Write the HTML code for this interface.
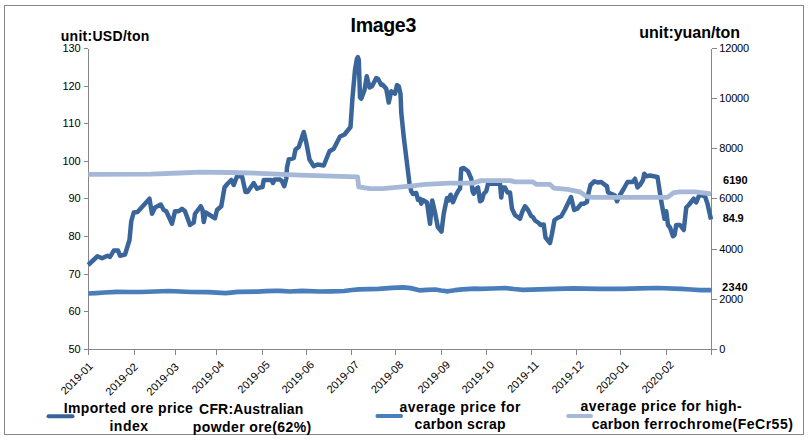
<!DOCTYPE html>
<html><head><meta charset="utf-8"><title>Image3</title>
<style>
html,body{margin:0;padding:0;background:#fff;}
body{width:811px;height:440px;overflow:hidden;font-family:"Liberation Sans",sans-serif;}
svg{display:block;}
text{font-family:"Liberation Sans",sans-serif;fill:#000;}
.b{font-weight:bold;}
.t{font-size:11px;}
</style></head><body>
<svg width="811" height="440" viewBox="0 0 811 440">
<rect x="0" y="0" width="811" height="440" fill="#fff"/>
<rect x="4.5" y="5.5" width="799" height="429" fill="none" stroke="#868686" stroke-width="1"/>

<g stroke="#868686" stroke-width="1" fill="none" shape-rendering="crispEdges">
<line x1="88.5" y1="48.5" x2="88.5" y2="349.5"/>
<line x1="711.5" y1="48.5" x2="711.5" y2="349.5"/>
<line x1="88" y1="349.5" x2="712" y2="349.5"/>
<line x1="84" y1="48.5" x2="88" y2="48.5"/>
<line x1="84" y1="86.5" x2="88" y2="86.5"/>
<line x1="84" y1="123.5" x2="88" y2="123.5"/>
<line x1="84" y1="161.5" x2="88" y2="161.5"/>
<line x1="84" y1="198.5" x2="88" y2="198.5"/>
<line x1="84" y1="236.5" x2="88" y2="236.5"/>
<line x1="84" y1="274.5" x2="88" y2="274.5"/>
<line x1="84" y1="311.5" x2="88" y2="311.5"/>
<line x1="84" y1="349.5" x2="88" y2="349.5"/>
<line x1="712" y1="48.5" x2="717" y2="48.5"/>
<line x1="712" y1="98.5" x2="717" y2="98.5"/>
<line x1="712" y1="148.5" x2="717" y2="148.5"/>
<line x1="712" y1="198.5" x2="717" y2="198.5"/>
<line x1="712" y1="249.5" x2="717" y2="249.5"/>
<line x1="712" y1="299.5" x2="717" y2="299.5"/>
<line x1="712" y1="349.5" x2="717" y2="349.5"/>
<line x1="88.5" y1="349" x2="88.5" y2="355"/>
<line x1="134.5" y1="349" x2="134.5" y2="355"/>
<line x1="175.5" y1="349" x2="175.5" y2="355"/>
<line x1="216.5" y1="349" x2="216.5" y2="355"/>
<line x1="262.5" y1="349" x2="262.5" y2="355"/>
<line x1="306.5" y1="349" x2="306.5" y2="355"/>
<line x1="351.5" y1="349" x2="351.5" y2="355"/>
<line x1="395.5" y1="349" x2="395.5" y2="355"/>
<line x1="441.5" y1="349" x2="441.5" y2="355"/>
<line x1="486.5" y1="349" x2="486.5" y2="355"/>
<line x1="531.5" y1="349" x2="531.5" y2="355"/>
<line x1="576.5" y1="349" x2="576.5" y2="355"/>
<line x1="620.5" y1="349" x2="620.5" y2="355"/>
<line x1="666.5" y1="349" x2="666.5" y2="355"/>
<line x1="711.5" y1="349" x2="711.5" y2="355"/>
</g>
<text class="t" x="62.6" y="51.9" textLength="18.1" lengthAdjust="spacing">130</text>
<text class="t" x="62.6" y="89.5" textLength="18.1" lengthAdjust="spacing">120</text>
<text class="t" x="62.6" y="127.2" textLength="18.1" lengthAdjust="spacing">110</text>
<text class="t" x="62.6" y="164.8" textLength="18.1" lengthAdjust="spacing">100</text>
<text class="t" x="68.6" y="202.4" textLength="12.1" lengthAdjust="spacing">90</text>
<text class="t" x="68.6" y="240.0" textLength="12.1" lengthAdjust="spacing">80</text>
<text class="t" x="68.6" y="277.6" textLength="12.1" lengthAdjust="spacing">70</text>
<text class="t" x="68.6" y="315.3" textLength="12.1" lengthAdjust="spacing">60</text>
<text class="t" x="68.6" y="352.9" textLength="12.1" lengthAdjust="spacing">50</text>
<text class="t" x="719.3" y="51.9" textLength="29.8" lengthAdjust="spacing">12000</text>
<text class="t" x="719.3" y="102.1" textLength="29.8" lengthAdjust="spacing">10000</text>
<text class="t" x="719.3" y="152.2" textLength="23.8" lengthAdjust="spacing">8000</text>
<text class="t" x="719.3" y="202.4" textLength="23.8" lengthAdjust="spacing">6000</text>
<text class="t" x="719.3" y="252.6" textLength="23.8" lengthAdjust="spacing">4000</text>
<text class="t" x="719.3" y="302.7" textLength="23.8" lengthAdjust="spacing">2000</text>
<text class="t" x="719.3" y="352.9" textLength="6.0" lengthAdjust="spacing">0</text>
<text class="t" transform="translate(93.7,366.8) rotate(-45)" text-anchor="end">2019-01</text>
<text class="t" transform="translate(138.5,367.6) rotate(-45)" text-anchor="end">2019-02</text>
<text class="t" transform="translate(179.5,367.6) rotate(-45)" text-anchor="end">2019-03</text>
<text class="t" transform="translate(224.8,365.5) rotate(-45)" text-anchor="end">2019-04</text>
<text class="t" transform="translate(270.6,365.5) rotate(-45)" text-anchor="end">2019-05</text>
<text class="t" transform="translate(314.8,365.5) rotate(-45)" text-anchor="end">2019-06</text>
<text class="t" transform="translate(359.8,365.5) rotate(-45)" text-anchor="end">2019-07</text>
<text class="t" transform="translate(404.0,365.5) rotate(-45)" text-anchor="end">2019-08</text>
<text class="t" transform="translate(450.8,365.5) rotate(-45)" text-anchor="end">2019-09</text>
<text class="t" transform="translate(494.8,365.5) rotate(-45)" text-anchor="end">2019-10</text>
<text class="t" transform="translate(539.7,365.5) rotate(-45)" text-anchor="end">2019-11</text>
<text class="t" transform="translate(584.7,365.5) rotate(-45)" text-anchor="end">2019-12</text>
<text class="t" transform="translate(629.3,365.5) rotate(-45)" text-anchor="end">2020-01</text>
<text class="t" transform="translate(674.7,365.5) rotate(-45)" text-anchor="end">2020-02</text>
<polyline points="88.20,265.00 97.50,256.25 102.00,258.25 107.50,255.75 110.00,257.00 113.75,250.50 118.00,250.50 120.00,255.75 125.00,254.50 129.50,240.00 131.25,221.25 133.75,212.50 137.50,212.00 149.50,198.75 152.00,213.75 155.00,207.50 160.75,204.50 163.75,210.00 166.25,211.25 172.00,223.75 175.00,211.25 178.75,211.25 182.00,208.75 185.00,211.25 190.00,225.00 193.75,222.50 195.00,213.75 200.75,206.25 202.50,210.00 203.75,222.00 205.75,212.50 215.00,218.25 217.00,210.00 221.25,206.25 224.50,187.50 227.50,183.75 231.25,180.00 233.75,185.00 237.00,176.25 242.00,176.25 245.50,192.00 247.50,192.00 253.75,183.00 257.00,188.75 260.00,187.50 262.50,187.00 263.75,180.00 271.25,180.00 273.00,183.00 274.50,179.50 280.00,179.50 282.00,181.25 284.25,186.25 286.25,178.75 287.00,167.50 288.75,159.50 293.75,158.00 295.50,149.50 298.75,147.00 303.75,132.00 306.25,142.50 309.50,159.50 313.75,166.25 317.50,164.50 323.75,165.50 329.50,151.25 333.75,148.75 340.00,136.50 344.50,134.50 350.50,127.00 352.50,97.50 355.00,70.00 356.90,58.80 357.90,57.20 358.80,60.00 360.00,97.50 361.25,98.75 364.50,90.00 366.75,76.25 369.50,87.50 372.00,86.25 376.25,78.00 378.00,78.75 381.25,85.00 382.50,84.50 386.25,88.75 388.75,102.50 391.25,91.25 395.00,93.75 397.00,85.00 398.75,86.25 400.50,93.75 401.25,112.50 403.75,137.00 407.50,167.50 409.50,183.75 411.25,191.25 413.00,194.00 416.25,193.00 418.00,200.00 420.00,198.75 421.25,203.75 422.75,200.00 427.00,202.50 430.00,223.75 432.25,200.50 435.00,212.50 437.80,227.00 441.50,231.60 443.75,213.50 447.00,198.00 448.75,200.50 450.60,194.75 453.00,202.25 456.25,194.50 458.75,190.00 460.00,188.75 461.25,168.75 463.75,168.00 468.00,171.25 471.25,178.75 472.50,191.25 473.75,193.75 476.25,188.75 478.00,187.50 480.00,201.25 482.00,200.00 483.75,193.75 486.25,191.25 488.00,183.75 500.00,183.75 501.25,197.50 502.50,187.50 505.00,187.50 507.50,192.50 510.00,192.50 512.00,208.75 515.00,215.00 520.00,218.75 522.50,211.25 525.00,206.25 528.00,210.00 531.25,216.25 533.00,217.00 535.00,220.50 538.75,223.00 540.50,225.00 543.75,224.50 545.50,237.50 550.00,243.00 552.00,233.75 554.50,220.00 557.50,218.00 561.25,216.25 565.00,209.50 571.00,197.00 574.20,210.00 577.20,208.75 581.25,203.75 583.75,203.75 587.00,202.00 588.00,195.00 590.50,185.00 594.50,181.25 597.50,182.50 601.25,182.00 605.00,185.00 607.00,186.25 608.00,192.50 611.25,193.75 615.00,195.50 617.00,201.25 620.00,195.00 623.75,188.75 627.50,182.00 632.50,182.00 635.00,178.75 637.50,187.50 640.00,185.00 643.00,180.00 644.25,173.75 646.25,176.25 650.00,175.50 657.50,177.00 659.50,190.00 661.25,201.25 664.50,218.75 666.25,211.25 668.00,225.00 670.00,227.50 673.00,236.25 674.50,235.00 676.25,225.00 680.00,225.00 683.75,230.00 686.25,207.50 688.75,205.00 693.75,198.75 696.25,202.50 698.75,196.25 701.25,195.00 705.00,196.25 707.50,203.75 711.00,219.50" fill="none" stroke="#3a659b" stroke-width="4.5" stroke-linejoin="round" stroke-linecap="butt"/>
<polyline points="88.20,293.50 96.00,293.10 104.70,292.50 117.00,291.80 130.00,292.00 141.70,292.00 155.00,291.50 168.80,291.00 180.00,291.50 191.00,292.00 208.20,292.10 217.00,292.70 225.50,293.20 231.00,292.60 237.80,291.80 257.60,291.70 266.00,291.20 274.80,290.80 280.00,290.80 289.90,291.50 302.20,290.80 319.50,291.50 332.00,291.30 344.10,291.00 352.00,290.00 358.90,289.30 378.60,288.80 392.00,287.90 403.30,287.30 410.70,288.10 419.30,290.30 427.00,289.90 435.40,289.50 441.00,290.50 447.70,291.30 455.00,290.20 462.50,289.30 474.80,288.60 480.00,288.90 493.00,288.50 505.20,288.00 514.00,289.00 522.90,289.80 548.00,289.20 573.20,288.30 598.40,288.90 622.00,288.90 640.00,288.40 657.60,288.00 681.20,288.90 691.00,289.50 700.50,290.10 711.20,290.10" fill="none" stroke="#4a7ebb" stroke-width="4.7" stroke-linejoin="round" stroke-linecap="butt"/>
<polyline points="88.20,174.30 150.00,174.20 180.00,173.00 200.00,172.20 230.00,172.50 260.00,173.30 300.00,175.20 340.00,176.30 357.50,176.85 358.75,186.85 370.00,188.60 382.50,188.60 410.00,186.10 425.00,184.35 450.00,183.10 472.50,183.10 481.25,180.60 510.00,180.60 515.00,181.85 532.50,181.85 536.25,184.35 550.00,184.35 553.75,188.10 567.50,189.35 580.00,191.85 586.25,196.35 592.50,197.35 667.50,197.35 673.75,192.60 680.00,191.85 695.00,191.85 711.20,193.80" fill="none" stroke="#a6b8d8" stroke-width="4.8" stroke-linejoin="round" stroke-linecap="butt"/>
<text class="b" font-size="11" x="723" y="184" textLength="24.6" lengthAdjust="spacing">6190</text>
<text class="b" font-size="11" x="722.8" y="222" textLength="20.8" lengthAdjust="spacing">84.9</text>
<text class="b" font-size="11" x="721.9" y="291" textLength="25.7" lengthAdjust="spacing">2340</text>
<text class="b" font-size="19.6" x="350.6" y="32" textLength="65.7" lengthAdjust="spacing">Image3</text>
<text class="b" font-size="14" x="60.7" y="40.7" textLength="88.7" lengthAdjust="spacing">unit:USD/ton</text>
<text class="b" font-size="16" x="639.3" y="37.7" textLength="100.8" lengthAdjust="spacing">unit:yuan/ton</text>
<line x1="48.5" y1="416.3" x2="72.5" y2="416.3" stroke="#38639a" stroke-width="4" stroke-linecap="round"/>
<text class="b" font-size="14" x="63.7" y="412.9" textLength="129.2" lengthAdjust="spacing">Imported ore price</text>
<text class="b" font-size="14" x="109.4" y="430.7" textLength="38.7" lengthAdjust="spacing">index</text>
<text class="b" font-size="14" x="199.1" y="413.7" textLength="104.2" lengthAdjust="spacing">CFR:Australian</text>
<text class="b" font-size="14" x="192.8" y="431.6" textLength="118.4" lengthAdjust="spacing">powder ore(62%)</text>
<line x1="377.4" y1="415.9" x2="401" y2="415.9" stroke="#4a7ebb" stroke-width="4" stroke-linecap="round"/>
<text class="b" font-size="14" x="399.4" y="412.0" textLength="121.0" lengthAdjust="spacing">average price for</text>
<text class="b" font-size="14" x="414.6" y="428.7" textLength="91.0" lengthAdjust="spacing">carbon scrap</text>
<line x1="568.2" y1="416" x2="591" y2="416" stroke="#a6b8d8" stroke-width="4" stroke-linecap="round"/>
<text class="b" font-size="14" x="580.6" y="411.1" textLength="161.0" lengthAdjust="spacing">average price for high-</text>
<text class="b" font-size="14" x="591.8" y="429.0" textLength="47.8" lengthAdjust="spacing">carbon</text>
<text class="b" font-size="14" x="644.3" y="429.0" textLength="148.6" lengthAdjust="spacing">ferrochrome(FeCr55)</text>
</svg></body></html>
